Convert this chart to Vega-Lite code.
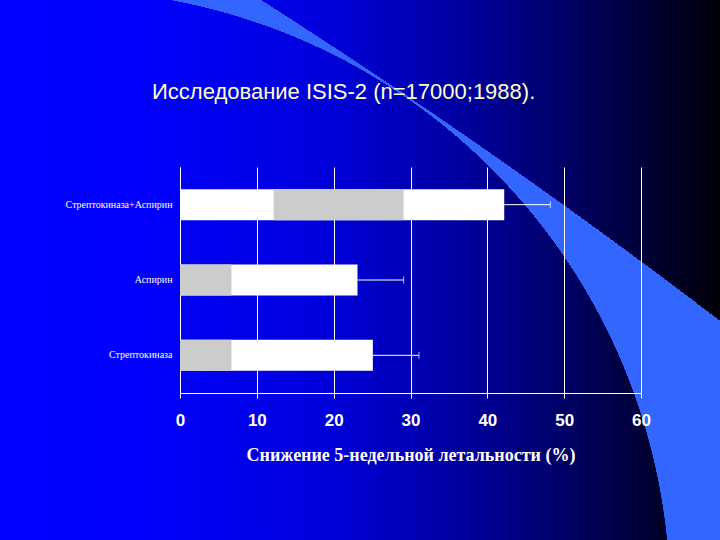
{
  "$schema": "https://vega.github.io/schema/vega-lite/v6.json",
  "width": 720,
  "height": 540,
  "autosize": "none",
  "padding": 0,
  "background": "#000060",
  "title": {
    "text": "Исследование ISIS-2 (n=17000;1988).",
    "anchor": "start",
    "frame": "group",
    "dx": 152,
    "offset": -121,
    "baseline": "alphabetic",
    "font": "Liberation Sans",
    "fontSize": 22,
    "fontWeight": "normal",
    "color": "#ffffcc"
  },
  "data": {
    "values": [
      {"group": "Стрептокиназа+Аспирин", "value": 42.2, "low": 12.2, "high": 29.1, "err": 48.2},
      {"group": "Аспирин", "value": 23.1, "low": 0, "high": 6.7, "err": 29.1},
      {"group": "Стрептокиназа", "value": 25.1, "low": 0, "high": 6.7, "err": 31.1}
    ]
  },
  "encoding": {
    "y": {
      "field": "group",
      "type": "nominal",
      "sort": null,
      "title": null,
      "scale": {"range": [167, 393], "paddingInner": 0, "paddingOuter": 0},
      "axis": {
        "offset": -180,
        "domainColor": "#ffffff",
        "ticks": false,
        "labelColor": "#ffffff",
        "labelFont": "Liberation Serif",
        "labelFontSize": 10,
        "labelPadding": 8,
        "grid": false
      }
    }
  },
  "resolve": {"axis": {"x": "independent"}},
  "layer": [
    {
      "mark": {"type": "bar", "color": "#ffffff", "size": 31},
      "encoding": {
        "x": {
          "field": "value",
          "type": "quantitative",
          "scale": {"domain": [0, 60], "range": [180, 641], "nice": false},
          "title": "Снижение 5-недельной летальности (%)",
          "axis": {
            "orient": "bottom",
            "offset": -147,
            "values": [0, 10, 20, 30, 40, 50, 60],
            "grid": false,
            "domainColor": "#ffffff",
            "tickColor": "#ffffff",
            "tickSize": 5,
            "labelFlush": false,
            "labelColor": "#ffffff",
            "labelFont": "Liberation Sans",
            "labelFontWeight": "bold",
            "labelFontSize": 17,
            "labelPadding": 14,
            "titleColor": "#ffffff",
            "titleFont": "Liberation Serif",
            "titleFontWeight": "bold",
            "titleFontSize": 18,
            "titlePadding": 18
          }
        }
      }
    },
    {
      "mark": {"type": "bar", "color": "#cccccc", "size": 31},
      "encoding": {
        "x": {
          "field": "low",
          "type": "quantitative",
          "title": null,
          "axis": {
            "orient": "top",
            "values": [0, 10, 20, 30, 40, 50, 60],
            "grid": true,
            "gridColor": "#ffffff",
            "gridOpacity": 1,
            "domain": false,
            "ticks": false,
            "labels": false
          }
        },
        "x2": {"field": "high"}
      }
    },
    {
      "mark": {"type": "rule", "color": "#ffffff", "strokeWidth": 1},
      "encoding": {
        "x": {"field": "value", "type": "quantitative", "axis": null},
        "x2": {"field": "err"}
      }
    },
    {
      "mark": {"type": "tick", "color": "#ffffff", "size": 7, "thickness": 1},
      "encoding": {
        "x": {"field": "err", "type": "quantitative", "axis": null}
      }
    }
  ],
  "config": {
    "view": {
      "fill": {
        "gradient": "linear",
        "x1": 0, "y1": 0, "x2": 1, "y2": 0,
        "stops": [
          {"offset": 0, "color": "#0000ff"},
          {"offset": 0.2, "color": "#0000fc"},
          {"offset": 0.45, "color": "#0000dc"},
          {"offset": 0.64, "color": "#0000a0"},
          {"offset": 0.77, "color": "#00006c"},
          {"offset": 0.9, "color": "#000034"},
          {"offset": 1, "color": "#000008"}
        ]
      },
      "stroke": {
        "gradient": "radial",
        "x1": 0.55692, "y1": 0.25621, "r1": 0,
        "x2": -4.57653, "y2": 7.86694, "r2": 9.18333,
        "stops": [
          {"offset": 0, "color": "rgba(51,102,255,0)"},
          {"offset": 0.0922, "color": "rgba(51,102,255,0)"},
          {"offset": 0.09235, "color": "rgba(51,102,255,0.9)"},
          {"offset": 0.0926, "color": "#3366ff"},
          {"offset": 0.9997, "color": "#3366ff"},
          {"offset": 1, "color": "rgba(51,102,255,0)"}
        ]
      },
      "strokeWidth": 2000
    }
  }
}
